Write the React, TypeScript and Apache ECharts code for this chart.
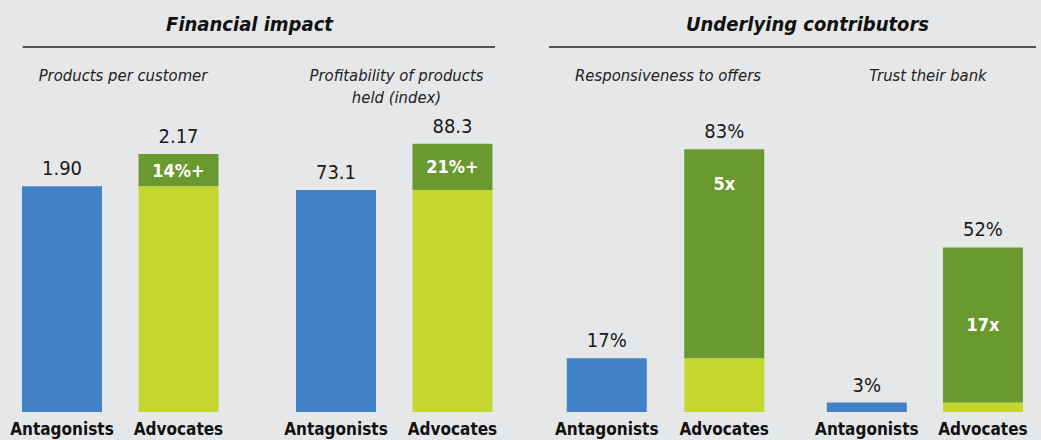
import React, { useEffect, useRef } from "react";
import * as echarts from "echarts";

const categories = ["Antagonists", "Advocates"];
const panelTitles = [
  "Products per customer",
  "Profitability of products\nheld (index)",
  "Responsiveness to offers",
  "Trust their bank",
];
const sectionTitles = ["Financial impact", "Underlying contributors"];
const antagonists = [1.9, 73.1, 17, 3];
const advocates = [2.17, 88.3, 83, 52];
const upliftLabels = ["14%+", "21%+", "5x", "17x"];
const decimals = [2, 1, 0, 0];
const suffixes = ["", "", "%", "%"];
const axisMax = [2.65, 103.7, 99.5, 99.5];

const FONT = "'DejaVu Sans Condensed', 'Liberation Sans Narrow', sans-serif";
const BLUE = "#4282c6";
const LIME = "#c3d72f";
const DARK = "#6a9a2f";
const TEXT = "#1a1a1a";

const gridLefts = [3.75, 277.75, 548, 808.75];
const gridWidths = [233, 233, 235, 233];
const subtitleX = [123, 396.5, 668, 928];

export default function App() {
  const ref = useRef<HTMLDivElement>(null);
  useEffect(() => {
    if (!ref.current) return;
    const chart = echarts.init(ref.current, null, { renderer: "svg" });
    const fmt = (i: number, v: number) => v.toFixed(decimals[i]) + suffixes[i];

    const grids = gridLefts.map((l, i) => ({
      left: l,
      width: gridWidths[i],
      top: 97,
      bottom: 28,
    }));
    const xAxes = grids.map((_, i) => ({
      type: "category",
      gridIndex: i,
      data: categories,
      axisLine: { show: false },
      axisTick: { show: false },
      axisLabel: {
        interval: 0,
        hideOverlap: false,
        alignMinLabel: "center",
        alignMaxLabel: "center",
        fontFamily: FONT,
        fontWeight: "bold",
        fontSize: 17,
        color: "#111",
        margin: 8,
      },
    }));
    const yAxes = grids.map((_, i) => ({
      type: "value",
      gridIndex: i,
      min: 0,
      max: axisMax[i],
      show: false,
      splitLine: { show: false },
    }));
    const valueLabel = {
      show: true,
      position: "top",
      distance: 8,
      fontFamily: FONT,
      fontSize: 20,
      color: TEXT,
    };
    const series: any[] = [];
    antagonists.forEach((a, i) => {
      const adv = advocates[i];
      series.push({
        type: "bar",
        xAxisIndex: i,
        yAxisIndex: i,
        stack: "s" + i,
        barWidth: 80,
        data: [
          { value: a, itemStyle: { color: BLUE }, label: { ...valueLabel, formatter: fmt(i, a) } },
          { value: a, itemStyle: { color: LIME }, label: { show: false } },
        ],
      });
      series.push({
        type: "bar",
        xAxisIndex: i,
        yAxisIndex: i,
        stack: "s" + i,
        barWidth: 80,
        data: [
          "-",
          {
            value: +(adv - a).toFixed(4),
            itemStyle: { color: DARK },
            label: {
              show: true,
              position: i === 2 ? "insideTop" : "inside",
              distance: i === 2 ? 25 : 5,
              formatter: upliftLabels[i],
              fontFamily: FONT,
              fontWeight: "bold",
              fontSize: 18,
              color: "#ffffff",
            },
          },
        ],
      });
      series.push({
        type: "bar",
        xAxisIndex: i,
        yAxisIndex: i,
        stack: "s" + i,
        barWidth: 80,
        itemStyle: { color: "rgba(0,0,0,0)" },
        data: ["-", { value: 0, label: { ...valueLabel, formatter: fmt(i, adv) } }],
      });
    });

    const titleStyle = {
      align: "center",
      verticalAlign: "middle",
      fontFamily: FONT,
      fontWeight: "bold",
      fontStyle: "italic",
      fontSize: 20,
      fill: "#111",
    };
    const graphic: any[] = [
      { type: "text", x: 249.5, y: 24, style: { ...titleStyle, text: sectionTitles[0] } },
      { type: "text", x: 807.5, y: 24, style: { ...titleStyle, text: sectionTitles[1] } },
      {
        type: "line",
        shape: { x1: 22.7, y1: 47, x2: 495, y2: 47 },
        style: { stroke: "#222", lineWidth: 1.5 },
      },
      {
        type: "line",
        shape: { x1: 549, y1: 47, x2: 1036, y2: 47 },
        style: { stroke: "#222", lineWidth: 1.5 },
      },
    ];
    panelTitles.forEach((t, i) => {
      graphic.push({
        type: "text",
        x: subtitleX[i],
        y: t.includes("\n") ? 86 : 75,
        style: {
          text: t,
          align: "center",
          verticalAlign: "middle",
          fontFamily: FONT,
          fontStyle: "italic",
          fontSize: 16.5,
          lineHeight: 22,
          fill: "#222",
        },
      });
    });

    chart.setOption({
      animation: false,
      backgroundColor: "#e6e7e9",
      grid: grids,
      xAxis: xAxes,
      yAxis: yAxes,
      series,
      graphic,
    });
    return () => chart.dispose();
  }, []);
  return (
    <div
      ref={ref}
      style={{ position: "fixed", left: 0, top: 0, width: 1041, height: 440 }}
    />
  );
}
